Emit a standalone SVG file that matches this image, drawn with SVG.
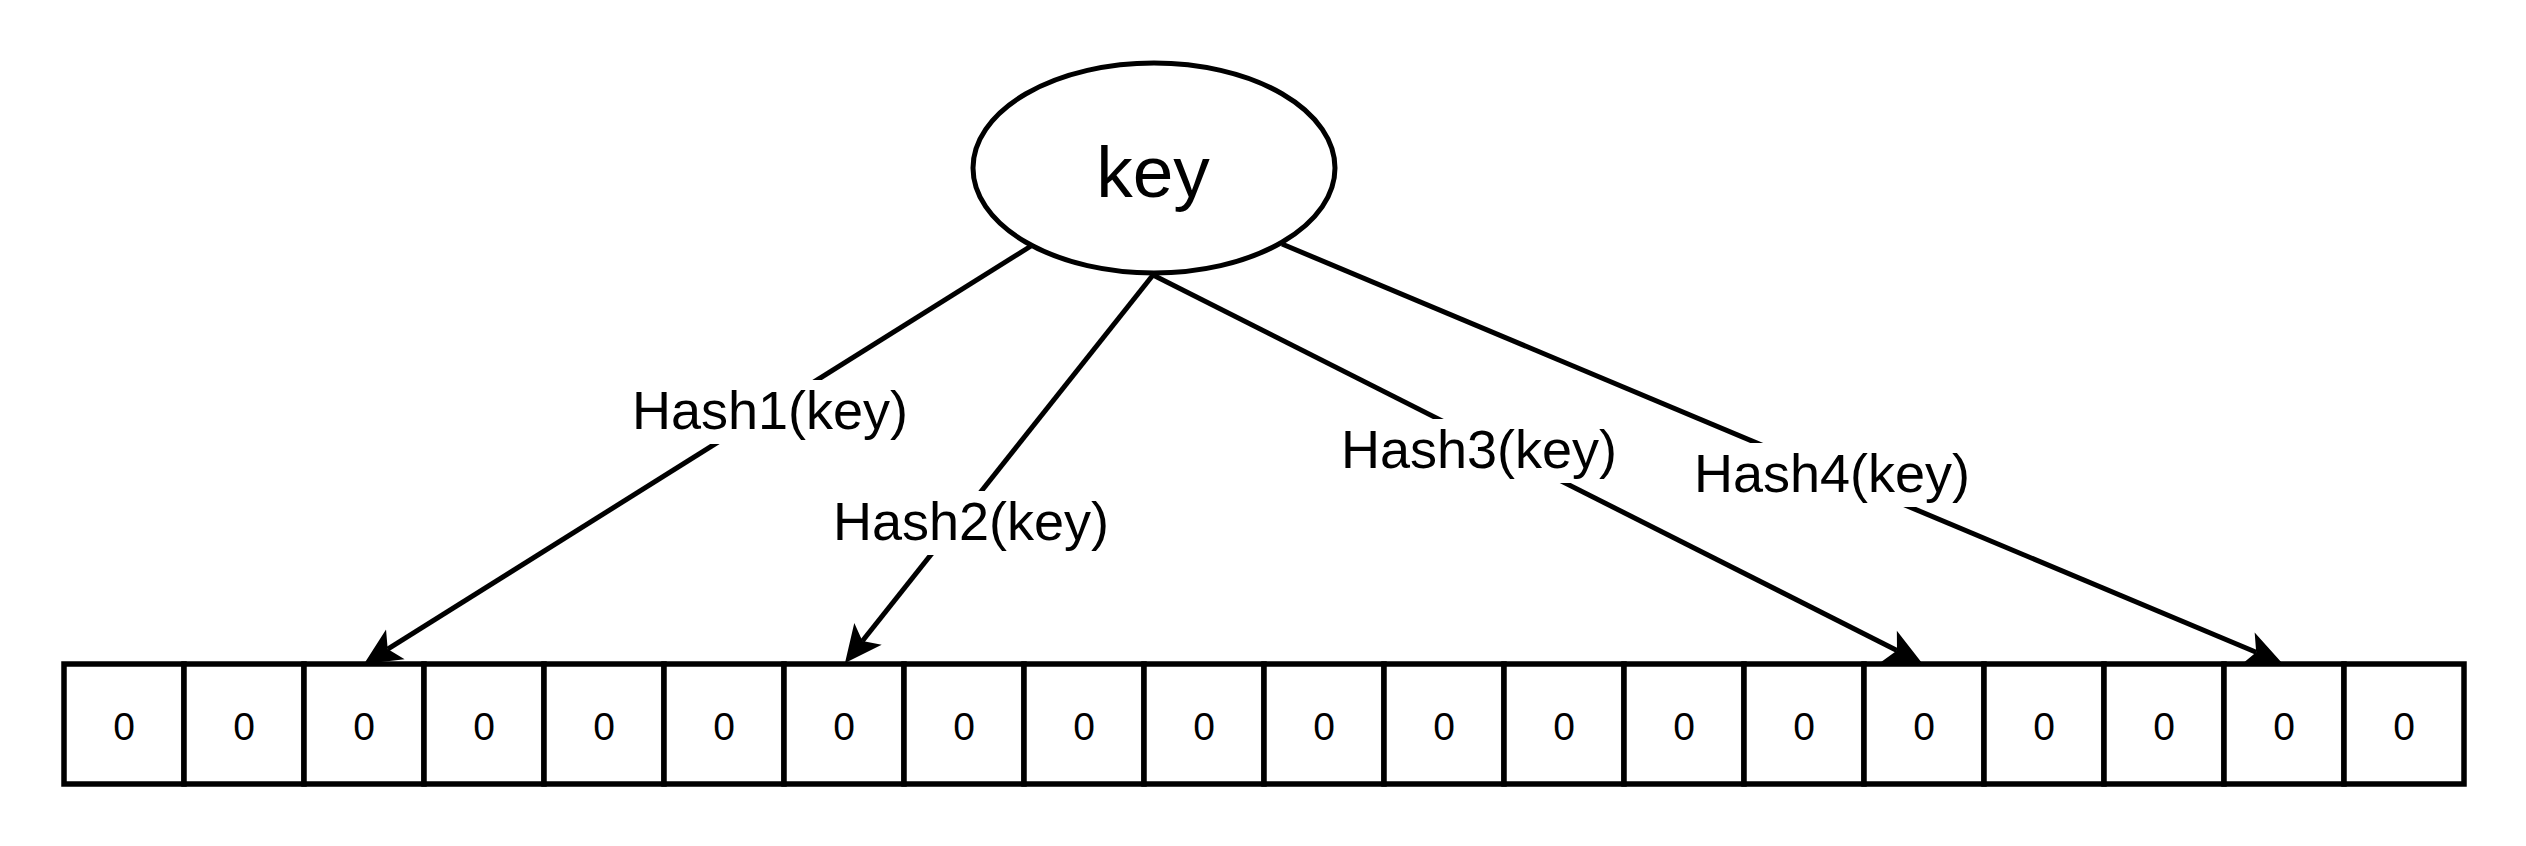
<svg xmlns="http://www.w3.org/2000/svg" width="2526" height="846" viewBox="0 0 2526 846">
<style>
.cell{fill:#fff;stroke:#000;stroke-width:5.5}
.zero{font-family:"Liberation Sans",Arial,sans-serif;font-size:39px;text-anchor:middle;fill:#000}
.edge{fill:none;stroke:#000;stroke-width:5;marker-end:url(#arr)}
.lbl{font-family:"Liberation Sans",Arial,sans-serif;font-size:54px;text-anchor:middle;fill:#000}
.lblbg{fill:#fff}
</style>
<defs>
<marker id="arr" markerUnits="userSpaceOnUse" markerWidth="80" markerHeight="80" refX="0" refY="0" orient="auto" overflow="visible">
<path d="M28,0 L-9,-17.5 L0,0 L-9,17.5 Z" fill="#000"/>
</marker>
</defs>
<rect width="2526" height="846" fill="#fff"/>
<g id="array">
<rect class="cell" x="64" y="664" width="120" height="120"/><text class="zero" x="124" y="740">0</text>
<rect class="cell" x="184" y="664" width="120" height="120"/><text class="zero" x="244" y="740">0</text>
<rect class="cell" x="304" y="664" width="120" height="120"/><text class="zero" x="364" y="740">0</text>
<rect class="cell" x="424" y="664" width="120" height="120"/><text class="zero" x="484" y="740">0</text>
<rect class="cell" x="544" y="664" width="120" height="120"/><text class="zero" x="604" y="740">0</text>
<rect class="cell" x="664" y="664" width="120" height="120"/><text class="zero" x="724" y="740">0</text>
<rect class="cell" x="784" y="664" width="120" height="120"/><text class="zero" x="844" y="740">0</text>
<rect class="cell" x="904" y="664" width="120" height="120"/><text class="zero" x="964" y="740">0</text>
<rect class="cell" x="1024" y="664" width="120" height="120"/><text class="zero" x="1084" y="740">0</text>
<rect class="cell" x="1144" y="664" width="120" height="120"/><text class="zero" x="1204" y="740">0</text>
<rect class="cell" x="1264" y="664" width="120" height="120"/><text class="zero" x="1324" y="740">0</text>
<rect class="cell" x="1384" y="664" width="120" height="120"/><text class="zero" x="1444" y="740">0</text>
<rect class="cell" x="1504" y="664" width="120" height="120"/><text class="zero" x="1564" y="740">0</text>
<rect class="cell" x="1624" y="664" width="120" height="120"/><text class="zero" x="1684" y="740">0</text>
<rect class="cell" x="1744" y="664" width="120" height="120"/><text class="zero" x="1804" y="740">0</text>
<rect class="cell" x="1864" y="664" width="120" height="120"/><text class="zero" x="1924" y="740">0</text>
<rect class="cell" x="1984" y="664" width="120" height="120"/><text class="zero" x="2044" y="740">0</text>
<rect class="cell" x="2104" y="664" width="120" height="120"/><text class="zero" x="2164" y="740">0</text>
<rect class="cell" x="2224" y="664" width="120" height="120"/><text class="zero" x="2284" y="740">0</text>
<rect class="cell" x="2344" y="664" width="120" height="120"/><text class="zero" x="2404" y="740">0</text>
</g>
<g id="connectors">
<path class="edge" d="M1031,246 L387.7,649.1"/>
<path class="edge" d="M1153,275 L862.4,641"/>
<path class="edge" d="M1153,275 L1897,650.4"/>
<path class="edge" d="M1282,244 L2256.2,652.2"/>
<g id="label1"><rect class="lblbg" x="631" y="380" width="278" height="64"/><text class="lbl" x="770" y="429">Hash1(key)</text></g>
<g id="label2"><rect class="lblbg" x="832" y="491" width="278" height="64"/><text class="lbl" x="971" y="540">Hash2(key)</text></g>
<g id="label3"><rect class="lblbg" x="1340" y="419" width="278" height="64"/><text class="lbl" x="1479" y="468">Hash3(key)</text></g>
<g id="label4"><rect class="lblbg" x="1693" y="443" width="278" height="64"/><text class="lbl" x="1832" y="492">Hash4(key)</text></g>
</g>
<g id="key">
<ellipse cx="1154" cy="168" rx="181" ry="105" fill="#fff" stroke="#000" stroke-width="5"/>
<text x="1153" y="197" font-family="'Liberation Sans',Arial,sans-serif" font-size="73" text-anchor="middle" fill="#000">key</text>
</g>
</svg>
